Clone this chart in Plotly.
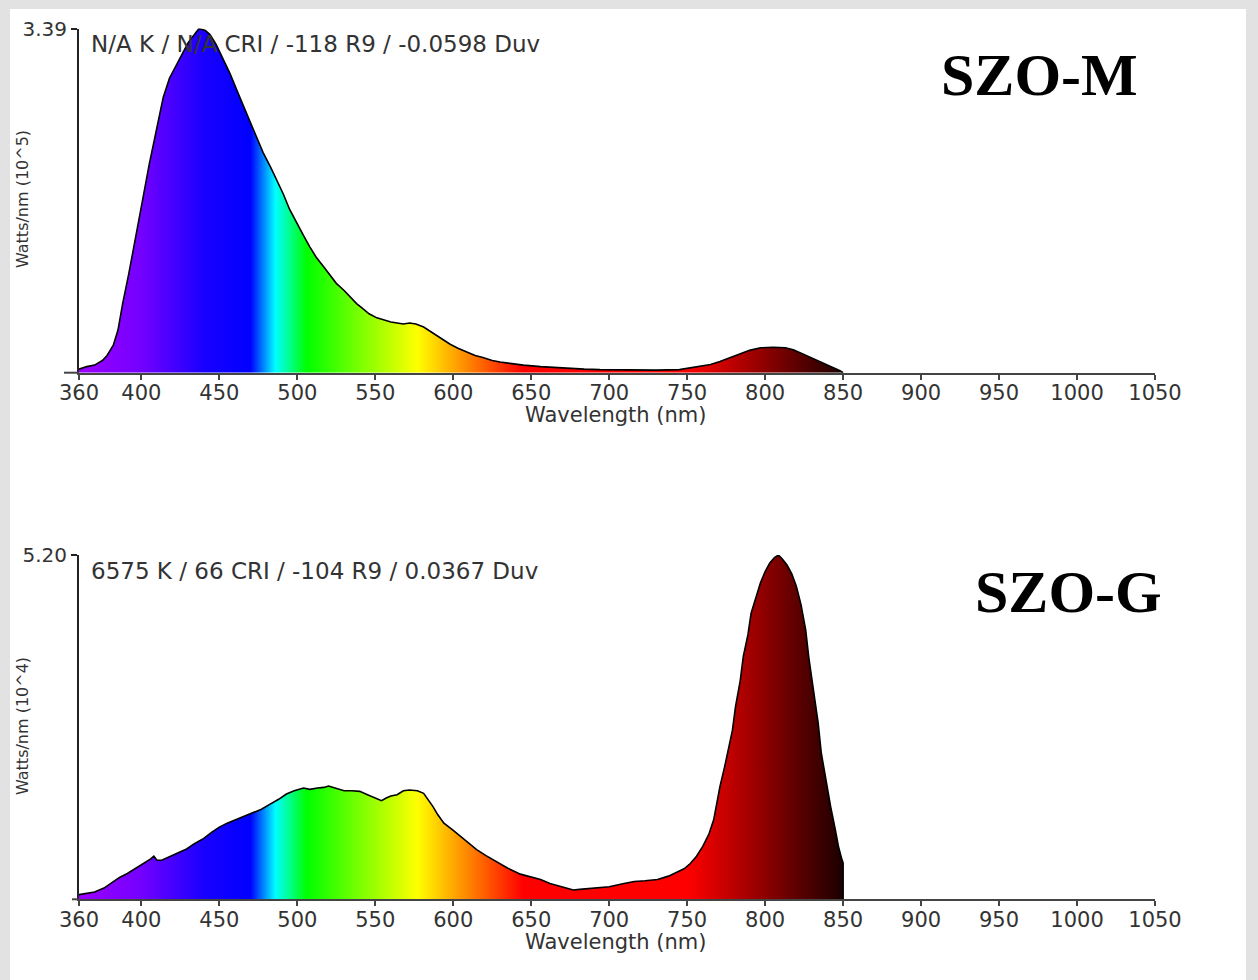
import plotly.graph_objects as go

W, H = 1258, 980

# ---------------- data ----------------
wl_m = [360, 365, 370, 375, 378, 382, 385, 388, 392, 397, 401, 405, 410, 414, 418, 423, 427, 430, 434, 437,
        441, 444, 448, 452, 457, 461, 465, 470, 474, 478, 483, 487, 491, 495, 500, 504, 508, 512, 517, 521,
        525, 530, 534, 538, 542, 546, 551, 555, 560, 564, 568, 572, 576, 581, 585, 589, 594, 598, 603, 609,
        614, 619, 625, 630, 636, 645, 656, 665, 673, 684, 694, 705, 715, 730, 745, 752, 758, 765, 771, 778,
        784, 790, 797, 805, 813, 818, 822, 828, 835, 842, 848, 850]
val_m = [0.035, 0.06, 0.075, 0.12, 0.17, 0.27, 0.42, 0.68, 0.98, 1.37, 1.72, 2.05, 2.42, 2.71, 2.90, 3.05, 3.16, 3.25, 3.33, 3.39,
         3.37, 3.33, 3.23, 3.10, 2.94, 2.79, 2.64, 2.47, 2.32, 2.17, 2.02, 1.89, 1.76, 1.61, 1.46, 1.35, 1.24, 1.14, 1.04, 0.96,
         0.88, 0.81, 0.74, 0.68, 0.63, 0.58, 0.54, 0.52, 0.50, 0.49, 0.48, 0.49, 0.48, 0.45, 0.41, 0.37, 0.32, 0.28, 0.24, 0.20,
         0.17, 0.15, 0.12, 0.105, 0.09, 0.075, 0.06, 0.05, 0.04, 0.035, 0.03, 0.027, 0.025, 0.025, 0.03, 0.05, 0.06, 0.08, 0.11, 0.15,
         0.19, 0.22, 0.245, 0.25, 0.245, 0.225, 0.20, 0.16, 0.11, 0.06, 0.02, 0.0]

wl_g = [360, 365, 370, 376, 382, 386, 391, 395, 399, 403, 406, 408, 410, 413, 418, 423, 429, 434, 440, 445,
        450, 455, 461, 466, 472, 477, 482, 488, 493, 498, 504, 508, 513, 517, 520, 525, 530, 535, 540, 545,
        549, 554, 557, 560, 564, 568, 572, 577, 581, 584, 587, 590, 594, 600, 606, 611, 615, 621, 628, 635,
        643, 650, 656, 662, 667, 672, 677, 681, 687, 694, 700, 708, 716, 723, 731, 738, 743, 748, 752, 756,
        760, 764, 767, 771, 774, 776, 779, 781, 784, 786, 789, 791, 794, 797, 800, 803, 806, 808.5, 811, 814,
        817, 820, 823, 826, 828, 831, 834, 836, 839, 842, 845, 847, 849, 850, 850]
val_g = [0.07, 0.09, 0.11, 0.17, 0.27, 0.33, 0.39, 0.45, 0.50, 0.56, 0.61, 0.65, 0.59, 0.59, 0.64, 0.70, 0.76, 0.84, 0.92, 1.01,
         1.09, 1.15, 1.21, 1.26, 1.31, 1.36, 1.43, 1.51, 1.59, 1.64, 1.68, 1.66, 1.68, 1.69, 1.71, 1.67, 1.64, 1.64, 1.63, 1.58,
         1.54, 1.49, 1.53, 1.56, 1.58, 1.64, 1.65, 1.64, 1.60, 1.50, 1.40, 1.28, 1.15, 1.04, 0.92, 0.83, 0.75, 0.66, 0.57, 0.47,
         0.38, 0.34, 0.30, 0.24, 0.21, 0.17, 0.14, 0.15, 0.16, 0.17, 0.19, 0.23, 0.27, 0.28, 0.30, 0.35, 0.40, 0.46, 0.54, 0.65,
         0.80, 0.99, 1.20, 1.70, 2.00, 2.21, 2.55, 2.91, 3.30, 3.67, 4.00, 4.32, 4.57, 4.78, 4.95, 5.08, 5.16, 5.20, 5.14, 5.05,
         4.92, 4.73, 4.45, 4.07, 3.65, 3.16, 2.66, 2.21, 1.80, 1.40, 1.05, 0.80, 0.62, 0.55, 0.0]

x_ticks = [360, 400, 450, 500, 550, 600, 650, 700, 750, 800, 850, 900, 950, 1000, 1050]
ymax_m = 3.39
ymax_g = 5.20
info_m = "N/A K / N/A CRI / -118 R9 / -0.0598 Duv"
info_g = "6575 K / 66 CRI / -104 R9 / 0.0367 Duv"
ytitle_m = "Watts/nm (10^5)"
ytitle_g = "Watts/nm (10^4)"
xtitle = "Wavelength (nm)"
label_m = "SZO-M"
label_g = "SZO-G"

# spectrum colours (wavelength, colour)
spec_wl = [360, 400, 440, 470, 486, 506, 577, 645, 750, 850]
spec_col = ['#9c00ff', '#7400ff', '#1800ff', '#0000ff', '#00ffff', '#00ff00', '#ffff00', '#ff0000', '#ff0000', '#1a0000']
spec_scale = [[(w - 360) / (850 - 360), c] for w, c in zip(spec_wl, spec_col)]

# ---------------- layout helpers ----------------
def px_x(p):
    return p / W

def px_y(p):
    return 1 - p / H

FONT = "DejaVu Sans"
TXT = "#333333"

fig = go.Figure()

for wl, val, ax in [(wl_m, val_m, ''), (wl_g, val_g, '2')]:
    fig.add_trace(go.Scatter(
        x=wl, y=val, mode='lines', xaxis='x' + ax, yaxis='y' + ax,
        line=dict(color='black', width=1.6),
        fill='tozeroy',
        fillgradient=dict(type='horizontal', colorscale=spec_scale, start=360, stop=850),
        showlegend=False, hoverinfo='skip'))

xdom = [px_x(79), px_x(1155)]
common_x = dict(range=[360, 1050], domain=xdom, tickvals=x_ticks, ticks='outside', ticklen=5,
                tickwidth=1.5, tickcolor='#444', showline=True, linecolor='#444', linewidth=2,
                showgrid=False, zeroline=False, automargin=False, ticklabelstandoff=-5,
                tickfont=dict(family=FONT, size=21, color=TXT))
common_y = dict(ticks='outside', ticklen=6, tickwidth=1.5, tickcolor='#222', showline=True,
                linecolor='#222', linewidth=2, showgrid=False, zeroline=False, automargin=False,
                tickfont=dict(family=FONT, size=20, color=TXT))

fig.update_layout(
    width=W, height=H,
    margin=dict(l=0, r=0, t=0, b=0),
    paper_bgcolor='#e2e2e2', plot_bgcolor='rgba(0,0,0,0)',
    xaxis=dict(anchor='y', **common_x),
    yaxis=dict(anchor='x', domain=[px_y(372.7), px_y(28.5)], range=[0, ymax_m],
               tickvals=[ymax_m], ticktext=[f"{ymax_m:.2f}"], **common_y),
    xaxis2=dict(anchor='y2', **common_x),
    yaxis2=dict(anchor='x2', domain=[px_y(899.3), px_y(555)], range=[0, ymax_g],
                tickvals=[ymax_g], ticktext=[f"{ymax_g:.2f}"], **common_y),
    shapes=[
        dict(type='rect', xref='paper', yref='paper', x0=px_x(10), x1=px_x(1246), y0=0, y1=px_y(9),
             fillcolor='white', line=dict(width=0), layer='below'),
        dict(type='line', xref='paper', yref='paper', x0=px_x(64), x1=px_x(79), y0=px_y(372.7), y1=px_y(372.7),
             line=dict(color='#444', width=2)),
        dict(type='line', xref='paper', yref='paper', x0=px_x(72), x1=px_x(79), y0=px_y(899.3), y1=px_y(899.3),
             line=dict(color='#444', width=2)),
    ],
)

annots = []
for info, yinfo, ytitle, yt, xt_y, lab, lx, ly in [
        (info_m, 44, ytitle_m, 199, 415, label_m, 1039, 75),
        (info_g, 571, ytitle_g, 726, 942, label_g, 1068, 592)]:
    annots.append(dict(text=info, x=px_x(89), y=px_y(yinfo), xref='paper', yref='paper', xanchor='left',
                       yanchor='middle', showarrow=False, font=dict(family=FONT, size=23, color=TXT)))
    annots.append(dict(text=ytitle, x=px_x(22), y=px_y(yt), xref='paper', yref='paper', xanchor='center',
                       yanchor='middle', textangle=-90, showarrow=False,
                       font=dict(family=FONT, size=16, color=TXT)))
    annots.append(dict(text=xtitle, x=px_x(615), y=px_y(xt_y), xref='paper', yref='paper', xanchor='center',
                       yanchor='middle', showarrow=False, font=dict(family=FONT, size=21, color=TXT)))
    annots.append(dict(text=f"<b>{lab}</b>", x=px_x(lx), y=px_y(ly), xref='paper', yref='paper',
                       xanchor='center', yanchor='middle', showarrow=False,
                       font=dict(family="Liberation Serif", size=60, color='black')))
fig.update_layout(annotations=annots)

fig.write_html("out.html")
